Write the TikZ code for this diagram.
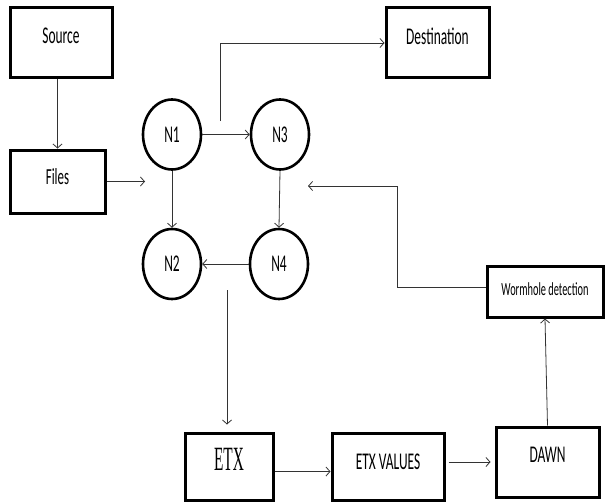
\documentclass[tikz,border=0pt]{standalone}
\usepackage{fontspec}
\setmainfont{Carlito}[FakeStretch=0.56]
\newfontfamily\etxfont{Liberation Serif}[FakeStretch=0.45]
\usetikzlibrary{shapes.geometric, arrows.meta}

\tikzset{
  box/.style={draw, line width=3pt, rectangle, inner sep=0pt, text depth=14pt,
    font=\fontsize{24}{26}\selectfont},
  peer/.style={draw, line width=2.6pt, ellipse, minimum width=58pt, minimum height=70pt,
    inner sep=0pt, font=\fontsize{24}{26}\selectfont},
  link/.style={draw=black!80, line width=0.8pt, -{Straight Barb[length=4pt, width=9pt]}}
}

\begin{document}
\begin{tikzpicture}[x=1pt, y=-1pt]
        \useasboundingbox (0,0) rectangle (605,503);

        % boites
        \node[box, minimum width=102pt, minimum height=70pt] (Source) at (61,43) {Source};
        \node[box, minimum width=95pt, minimum height=63pt, text depth=10pt, font=\fontsize{23}{25}\selectfont] (Files) at (57.5,181.5) {Files};
        \node[box, minimum width=103pt, minimum height=70pt] (Dest) at (437.5,43) {Destination};
        \node[box, minimum width=88pt, minimum height=67pt, font=\fontsize{34}{36}\etxfont] (ETX) at (229,466.5) {ETX};
        \node[box, minimum width=112pt, minimum height=67pt, text depth=10pt] (ETXval) at (388,466.5) {ETX VALUES};
        \node[box, minimum width=103pt, minimum height=70pt] (DAWN) at (547.5,462) {DAWN};
        \node[box, minimum width=116pt, minimum height=51pt, text depth=4pt, font=\fontsize{18.5}{20}\selectfont] (Worm) at (545,291.5) {Wormhole detection};

        % noeuds
        \node[peer] (N1) at (172,134.5) {N1};
        \node[peer] (N3) at (280,134.5) {N3};
        \node[peer] (N2) at (172,264) {N2};
        \node[peer] (N4) at (279,264) {N4};

        % points libres
        \coordinate (filesTip) at (145,181.5);
        \coordinate (destStart) at (220,121);
        \coordinate (etxStart) at (227,290);
        \coordinate (wormBend) at (397,186);
        \coordinate (wormTip) at (308,186);

        % liens
        \draw[link] (Source.south -| Files.north) -- (Files.north);
        \draw[link] (Files.east) -- (filesTip);
        \draw[link] (N1.east) -- (N3.west);
        \draw[link] (destStart) |- (Dest.west);
        \draw[link] (N1.south) -- (N2.north);
        \draw[link] (N3.south) -- (N4.north);
        \draw[link] (N4.west) -- (N2.east);
        \draw[link, shorten >=7pt] (etxStart) -- (etxStart |- ETX.north);
        \draw[link] ([yshift=-5pt]ETX.east) -- ([yshift=-5pt]ETXval.west);
        \draw[link, shorten <=3pt, shorten >=4pt] (ETXval.east |- DAWN.west) -- (DAWN.west);
        \draw[link] (DAWN.north) -- (Worm.south);
        \draw[link] ([yshift=4pt]Worm.west) -| (wormBend) -- (wormTip);
\end{tikzpicture}
\end{document}
